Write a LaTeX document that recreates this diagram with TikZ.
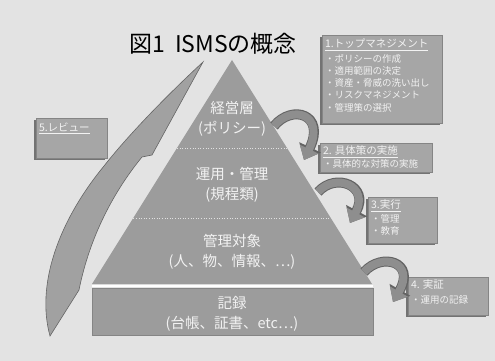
\documentclass[tikz,border=0pt]{standalone}
\usepackage{fontspec}
\setmainfont{Noto Sans CJK JP}
\usetikzlibrary{arrows.meta,shadows}
\definecolor{bgcol}{HTML}{E3E3E3}
\definecolor{pyrcol}{HTML}{9C9C9C}
\definecolor{boxcol}{HTML}{A6A6A6}
\definecolor{arrcol}{HTML}{8E8E8E}
\definecolor{txtlight}{HTML}{F2F2F2}
\begin{document}
\begin{tikzpicture}[x=1pt,y=-1pt,
  layertext/.style={font=\fontsize{14.5}{19.5}\selectfont, text=txtlight, align=center, inner sep=0pt},
  infobox/.style={fill=boxcol, draw=boxcol!80!black, line width=0.4pt, inner sep=0pt,
     drop shadow={shadow xshift=-2pt, shadow yshift=-2pt, fill=black!55, opacity=1}},
  boxtext/.style={anchor=north west, align=left, inner sep=0pt, text=txtlight,
     font=\fontsize{9.5}{12.3}\selectfont},
  flowarrowout/.style={line width=10pt, draw=arrcol!70!black, -{Triangle[width=23pt,length=14pt]}},
  flowarrow/.style={line width=8pt, draw=arrcol, -{Triangle[width=20pt,length=12pt]}},
  divider/.style={draw=white!70!pyrcol, line width=0.6pt, dotted}
]
\useasboundingbox (0,0) rectangle (495,361);
\fill[bgcol] (0,0) rectangle (495,361);

% title
\node[font=\fontsize{23}{27}\selectfont, inner sep=0pt] (title) at (213,44) {図1\ \ ISMSの概念};

% pyramid
\coordinate (apex) at (232,60);
\coordinate (bl) at (92,284);
\coordinate (br) at (372,284);
\fill[pyrcol] (apex) -- (br) -- (bl) -- cycle;
\coordinate (d1l) at (177,148); \coordinate (d1r) at (287,148);
\coordinate (d2l) at (133.3,218); \coordinate (d2r) at (330.7,218);
\draw[divider] (d1l) -- (d1r);
\draw[divider] (d2l) -- (d2r);

% record rectangle
\coordinate (gapl) at (92,286); \coordinate (gapr) at (373,286);
\draw[white, line width=1.6pt] (gapl) -- (gapr);
\node[fill=pyrcol, draw=pyrcol!85!black, line width=0.4pt, minimum width=281pt, minimum height=47pt, inner sep=0pt] (rec) at (232.5,311.5) {};

% layer texts
\node[layertext] (l1) at (232,119) {経営層\\(ポリシー)};
\node[layertext] (l2) at (232,185) {運用・管理\\(規程類)};
\node[layertext] (l3) at (232,252) {管理対象\\(人、物、情報、…)};
\node[layertext] (l4) at (232,314) {記録\\(台帳、証書、etc…)};

% info boxes
\node[infobox, minimum width=120pt, minimum height=88pt] (b1) at (382,79) {};
\node[boxtext] (t1) at ([xshift=3pt,yshift=-4pt]b1.north west)
  {\underline{\fontsize{10.5}{12}\selectfont 1.トップマネジメント}\\[2pt]
   ・ポリシーの作成\\・適用範囲の決定\\・資産・脅威の洗い出し\\・リスクマネジメント\\・管理策の選択};

\node[infobox, minimum width=112pt, minimum height=29pt] (b2) at (376,157.5) {};
\node[boxtext] (t2) at ([xshift=3pt,yshift=-3pt]b2.north west)
  {\underline{\fontsize{10.5}{12}\selectfont 2. 具体策の実施}\\・具体的な対策の実施};

\node[infobox, minimum width=69pt, minimum height=46pt] (b3) at (402.5,220) {};
\node[boxtext] (t3) at ([xshift=3pt,yshift=-3pt]b3.north west)
  {\underline{\fontsize{10.5}{12}\selectfont 3.実行}\\[1pt]・管理\\・教育};

\node[infobox, minimum width=80pt, minimum height=38pt] (b4) at (448,296) {};
\node[boxtext] (t4) at ([xshift=3pt,yshift=-3pt]b4.north west)
  {\fontsize{10.5}{12}\selectfont 4. 実証\\[2pt]\fontsize{9.5}{12}\selectfont ・運用の記録};

\node[infobox, minimum width=71pt, minimum height=40pt] (b5) at (71.5,138) {};
\node[boxtext] (t5) at ([xshift=3pt,yshift=-5pt]b5.north west)
  {\underline{\fontsize{10.5}{12}\selectfont 5.レビュー}};

% right curved arrows
\coordinate (a1s) at (274,126); \coordinate (a1e) at (304,160);
\coordinate (a2s) at (318,192); \coordinate (a2e) at (350,223);
\coordinate (a3s) at (364,272); \coordinate (a3e) at (393,302);
\foreach \s/\e/\ca/\cb in {a1s/a1e/{(292,104)}/{(326,114)}, a2s/a2e/{(336,172)}/{(370,186)}, a3s/a3e/{(382,252)}/{(416,262)}}{
  \draw[flowarrowout] (\s) .. controls \ca and \cb .. (\e);
  \draw[flowarrow] (\s) .. controls \ca and \cb .. (\e);
}

% big review arrow
\coordinate (rtail) at (50,336);
\coordinate (rtip) at (203,62);
\coordinate (rbarb) at (152,155);
\fill[pyrcol!95!white, draw=pyrcol!65!black, line width=0.6pt]
  (rtail) .. controls (36,285) and (58,222) .. (104,166)
  .. controls (126,138) and (162,100) .. (rtip)
  -- (rbarb) -- (142,157)
  .. controls (115,190) and (90,235) .. (79,290) -- cycle;
\end{tikzpicture}
\end{document}
